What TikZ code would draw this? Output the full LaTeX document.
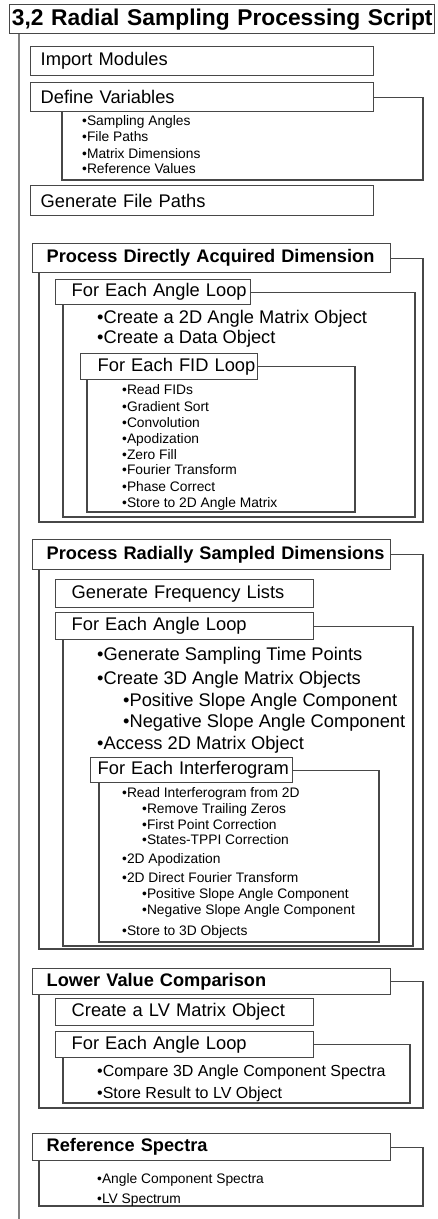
\documentclass[tikz,border=0pt]{standalone}
\usepackage{fontspec}
\setmainfont{Liberation Sans}
\newcommand\sztitle{\fontsize{22.8pt}{25pt}\selectfont\bfseries}
\newcommand\szbig{\fontsize{18.3pt}{20pt}\selectfont}
\newcommand\szbold{\fontsize{18.2pt}{20pt}\selectfont\bfseries}
\newcommand\szmid{\fontsize{16pt}{18pt}\selectfont}
\newcommand\szsmall{\fontsize{13.8pt}{15pt}\selectfont}
\definecolor{linec}{gray}{0.28}
\definecolor{spinec}{gray}{0.5}
\begin{document}
\begin{tikzpicture}[x=1pt,y=-1pt,
  box/.style={draw=linec, line width=1.4pt, fill=white, anchor=north west,
    inner xsep=0pt, inner ysep=0pt, align=left},
  conn/.style={draw=linec, line width=1.4pt},
  spine/.style={draw=spinec, line width=2pt},
  txt/.style={anchor=base west, inner sep=0pt}]
\useasboundingbox (0,0) rectangle (438,1219);

% title and spine
\node[box, text width=425pt, minimum height=29pt, align=center, font=\sztitle] (title) at (9,4) {3,2 Radial Sampling Processing Script};
\coordinate (spineend) at (19,1219);
\draw[spine] (title.south west -| spineend) -- (spineend);

% top-level simple boxes
\node[box, text width=343pt, minimum height=29pt, font=\szbig] (imp) at (30,46) {\hspace*{10pt}Import Modules};
\node[box, text width=343pt, minimum height=29pt, font=\szbig] (def) at (30,82) {\hspace*{10pt}Define Variables};
\node[txt, font=\szsmall] (d1) at (82,125) {•Sampling Angles};
\node[txt, font=\szsmall] (d2) at (82,141) {•File Paths};
\node[txt, font=\szsmall] (d3) at (82,158) {•Matrix Dimensions};
\node[txt, font=\szsmall] (d4) at (82,173) {•Reference Values};
\coordinate (defR) at (423,180); \coordinate (defL) at (62,180);
\draw[conn] (def.east) -| (defR) -- (defL) -- (defL |- def.south);
\node[box, text width=343pt, minimum height=30pt, font=\szbig] (gfp) at (30,185) {\hspace*{10pt}Generate File Paths};

% Process Directly Acquired Dimension
\node[box, text width=358pt, minimum height=29pt, font=\szbold] (pda) at (32,243) {\hspace*{14pt}Process Directly Acquired Dimension};
\coordinate (pdaR) at (423,522); \coordinate (pdaL) at (39,522);
\draw[conn] (pda.east) -| (pdaR) -- (pdaL) -- (pdaL |- pda.south);
\node[box, text width=195pt, minimum height=25pt, font=\szbig] (al1) at (55,279) {\hspace*{16pt}For Each Angle Loop};
\coordinate (al1R) at (415,517); \coordinate (al1L) at (63,517);
\draw[conn] (al1.east) -| (al1R) -- (al1L) -- (al1L |- al1.south);
\node[txt, font=\szbig] (a1) at (97,323.5) {•Create a 2D Angle Matrix Object};
\node[txt, font=\szbig] (a2) at (97,343.5) {•Create a Data Object};
\node[box, text width=177pt, minimum height=26pt, font=\szbig] (fid) at (80,353) {\hspace*{17pt}For Each FID Loop};
\coordinate (fidR) at (355,512); \coordinate (fidL) at (87,512);
\draw[conn] (fid.east) -| (fidR) -- (fidL) -- (fidL |- fid.south);
\node[txt, font=\szsmall] (f1) at (122,394) {•Read FIDs};
\node[txt, font=\szsmall] (f2) at (122,411) {•Gradient Sort};
\node[txt, font=\szsmall] (f3) at (122,427) {•Convolution};
\node[txt, font=\szsmall] (f4) at (122,443) {•Apodization};
\node[txt, font=\szsmall] (f5) at (122,459) {•Zero Fill};
\node[txt, font=\szsmall] (f6) at (122,474) {•Fourier Transform};
\node[txt, font=\szsmall] (f7) at (122,491) {•Phase Correct};
\node[txt, font=\szsmall] (f8) at (122,507) {•Store to 2D Angle Matrix};

% Process Radially Sampled Dimensions
\node[box, text width=358pt, minimum height=30pt, font=\szbold] (prs) at (32,539) {\hspace*{14pt}Process Radially Sampled Dimensions};
\coordinate (prsR) at (423,949); \coordinate (prsL) at (39,949);
\draw[conn] (prs.east) -| (prsR) -- (prsL) -- (prsL |- prs.south);
\node[box, text width=258pt, minimum height=28pt, font=\szbig] (gfl) at (55,579) {\hspace*{16pt}Generate Frequency Lists};
\node[box, text width=258pt, minimum height=27pt, font=\szbig] (al2) at (55,612) {\hspace*{16pt}For Each Angle Loop};
\coordinate (al2R) at (413,946); \coordinate (al2L) at (63,946);
\draw[conn] (al2.east) -| (al2R) -- (al2L) -- (al2L |- al2.south);
\node[txt, font=\szbig] (b1) at (97,660.5) {•Generate Sampling Time Points};
\node[txt, font=\szbig] (b2) at (97,684.5) {•Create 3D Angle Matrix Objects};
\node[txt, font=\szbig] (b3) at (123,706.5) {•Positive Slope Angle Component};
\node[txt, font=\szbig] (b4) at (123,727.5) {•Negative Slope Angle Component};
\node[txt, font=\szbig] (b5) at (97,749.5) {•Access 2D Matrix Object};
\node[box, text width=202pt, minimum height=25pt, font=\szbig] (ifg) at (90,757) {\hspace*{7pt}For Each Interferogram};
\coordinate (ifgR) at (379,942); \coordinate (ifgL) at (99,942);
\draw[conn] (ifg.east) -| (ifgR) -- (ifgL) -- (ifgL |- ifg.south);
\node[txt, font=\szsmall] (i1) at (122,797) {•Read Interferogram from 2D};
\node[txt, font=\szsmall] (i2) at (142,813) {•Remove Trailing Zeros};
\node[txt, font=\szsmall] (i3) at (142,829) {•First Point Correction};
\node[txt, font=\szsmall] (i4) at (142,844) {•States-TPPI Correction};
\node[txt, font=\szsmall] (i5) at (122,863) {•2D Apodization};
\node[txt, font=\szsmall] (i6) at (122,882) {•2D Direct Fourier Transform};
\node[txt, font=\szsmall] (i7) at (142,898) {•Positive Slope Angle Component};
\node[txt, font=\szsmall] (i8) at (142,914) {•Negative Slope Angle Component};
\node[txt, font=\szsmall] (i9) at (122,935) {•Store to 3D Objects};

% Lower Value Comparison
\node[box, text width=358pt, minimum height=26pt, font=\szbold] (lvc) at (32,968) {\hspace*{14pt}Lower Value Comparison};
\coordinate (lvcR) at (423,1108); \coordinate (lvcL) at (39,1108);
\draw[conn] (lvc.east) -| (lvcR) -- (lvcL) -- (lvcL |- lvc.south);
\node[box, text width=258pt, minimum height=27pt, font=\szbig] (clv) at (55,998) {\hspace*{16pt}Create a LV Matrix Object};
\node[box, text width=258pt, minimum height=26pt, font=\szbig] (al3) at (55,1031) {\hspace*{16pt}For Each Angle Loop};
\coordinate (al3R) at (410,1103); \coordinate (al3L) at (63,1103);
\draw[conn] (al3.east) -| (al3R) -- (al3L) -- (al3L |- al3.south);
\node[txt, font=\szmid] (c1) at (97,1076.7) {•Compare 3D Angle Component Spectra};
\node[txt, font=\szmid] (c2) at (97,1098.7) {•Store Result to LV Object};

% Reference Spectra
\node[box, text width=358pt, minimum height=27pt, font=\szbold] (ref) at (32,1133) {\hspace*{14pt}Reference Spectra};
\coordinate (refR) at (423,1206); \coordinate (refL) at (39,1206);
\draw[conn] (ref.east) -| (refR) -- (refL) -- (refL |- ref.south);
\node[txt, font=\szsmall] (r1) at (97,1183) {•Angle Component Spectra};
\node[txt, font=\szsmall] (r2) at (97,1203) {•LV Spectrum};
\end{tikzpicture}
\end{document}
